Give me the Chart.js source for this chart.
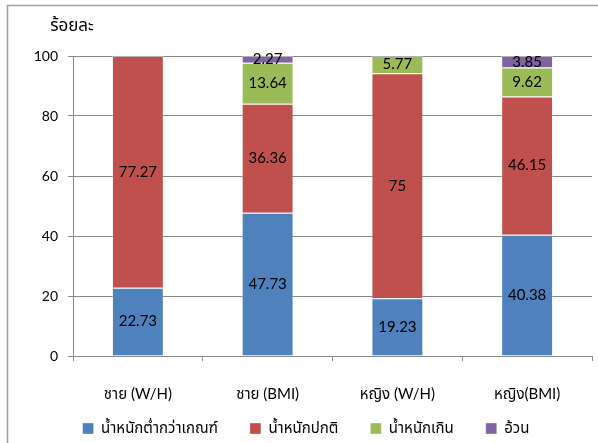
<!DOCTYPE html>
<html>
<head>
<meta charset="utf-8">
<script src="https://cdn.jsdelivr.net/npm/chart.js@4"></script>
<style>
  html, body { margin: 0; padding: 0; background: #ffffff; }
  #wrap { width: 598px; height: 443px; position: relative; }
</style>
</head>
<body>
<div id="wrap"><canvas id="c" width="598" height="443"></canvas></div>
<script>
// Categories and the four weight groups (percent of each group)
const categories = ['ชาย (W/H)', 'ชาย (BMI)', 'หญิง (W/H)', 'หญิง(BMI)'];
const seriesNames = ['น้ำหนักต่ำกว่าเกณฑ์', 'น้ำหนักปกติ', 'น้ำหนักเกิน', 'อ้วน'];
const underweight = [22.73, 47.73, 19.23, 40.38];
const normalWeight = [77.27, 36.36, 75, 46.15];
const overweight = [0, 13.64, 5.77, 9.62];
const obese = [0, 2.27, 0, 3.85];
const yTicks = [0, 20, 40, 60, 80, 100];
const yTitle = 'ร้อยละ';

const colors = ['#4F81BD', '#C0504D', '#9BBB59', '#8064A2'];
const FONT = "Lato, 'Noto Sans Thai', 'Noto Sans', sans-serif";
const gridColor = '#888888';

// Outer frame (left and top edges)
const framePlugin = {
  id: 'frame',
  beforeDraw(chart) {
    const ctx = chart.ctx;
    ctx.save();
    ctx.strokeStyle = '#a0a0a0';
    ctx.lineWidth = 1.5;
    ctx.beginPath();
    ctx.moveTo(7.5, chart.height);
    ctx.lineTo(7.5, 5.5);
    ctx.lineTo(chart.width, 5.5);
    ctx.stroke();
    ctx.restore();
  }
};

// Keep the legend row a fixed distance below the plot
const legendPlacement = {
  id: 'legendPlacement',
  afterLayout(chart) {
    const lg = chart.legend;
    if (!lg) return;
    lg.top = chart.chartArea.bottom + 33;
    lg.bottom = chart.height;
    lg.height = lg.bottom - lg.top;
  }
};

// Horizontal axis caption above the value axis
const yTitlePlugin = {
  id: 'yTitle',
  afterDraw(chart) {
    const ctx = chart.ctx;
    const area = chart.chartArea;
    ctx.save();
    ctx.font = '17px ' + FONT;
    ctx.fillStyle = '#000';
    ctx.textAlign = 'center';
    ctx.textBaseline = 'middle';
    ctx.fillText(yTitle, area.left - 1, area.top - 30);
    ctx.restore();
  }
};

// Value labels centred on each stacked segment
const valueLabels = {
  id: 'valueLabels',
  afterDatasetsDraw(chart) {
    const ctx = chart.ctx;
    ctx.save();
    ctx.font = '15px ' + FONT;
    ctx.fillStyle = '#000';
    ctx.textAlign = 'center';
    ctx.textBaseline = 'middle';
    chart.data.datasets.forEach((ds, i) => {
      const meta = chart.getDatasetMeta(i);
      meta.data.forEach((bar, j) => {
        const v = ds.data[j];
        if (!v) return;
        const p = bar.getProps(['x', 'y', 'base'], true);
        ctx.fillText(String(v), p.x, (p.y + p.base) / 2);
      });
    });
    ctx.restore();
  }
};

const seriesData = [underweight, normalWeight, overweight, obese];

new Chart(document.getElementById('c'), {
  type: 'bar',
  data: {
    labels: categories,
    datasets: seriesNames.map((name, i) => ({
      label: name,
      data: seriesData[i],
      backgroundColor: colors[i],
      borderColor: 'rgba(255,255,255,0.35)',
      borderWidth: 1,
      barPercentage: 0.5,
      categoryPercentage: 0.8
    }))
  },
  options: {
    responsive: false,
    animation: false,
    devicePixelRatio: 1,
    layout: { padding: { left: 20, right: 6, top: 56, bottom: 6 } },
    plugins: {
      tooltip: { enabled: false },
      legend: {
        position: 'bottom',
        maxHeight: 35,
        labels: {
          boxWidth: 11,
          boxHeight: 11,
          padding: 32,
          color: '#000',
          font: { family: FONT, size: 15 }
        }
      }
    },
    scales: {
      x: {
        stacked: true,
        grid: {
          offset: true,
          drawOnChartArea: false,
          drawTicks: true,
          tickLength: 5,
          color: gridColor
        },
        border: { color: gridColor },
        ticks: {
          color: '#000',
          padding: 24,
          font: { family: FONT, size: 15 }
        },
        afterFit(s) { s.height = 46; }
      },
      y: {
        stacked: true,
        min: 0,
        max: 100,
        afterBuildTicks(s) { s.ticks = yTicks.map(v => ({ value: v })); },
        grid: { color: gridColor, tickLength: 5 },
        border: { color: gridColor },
        ticks: {
          color: '#000',
          padding: 10,
          font: { family: FONT, size: 14 }
        },
        afterFit(s) { s.width = 53; }
      }
    }
  },
  plugins: [framePlugin, legendPlacement, yTitlePlugin, valueLabels]
});
</script>
</body>
</html>
